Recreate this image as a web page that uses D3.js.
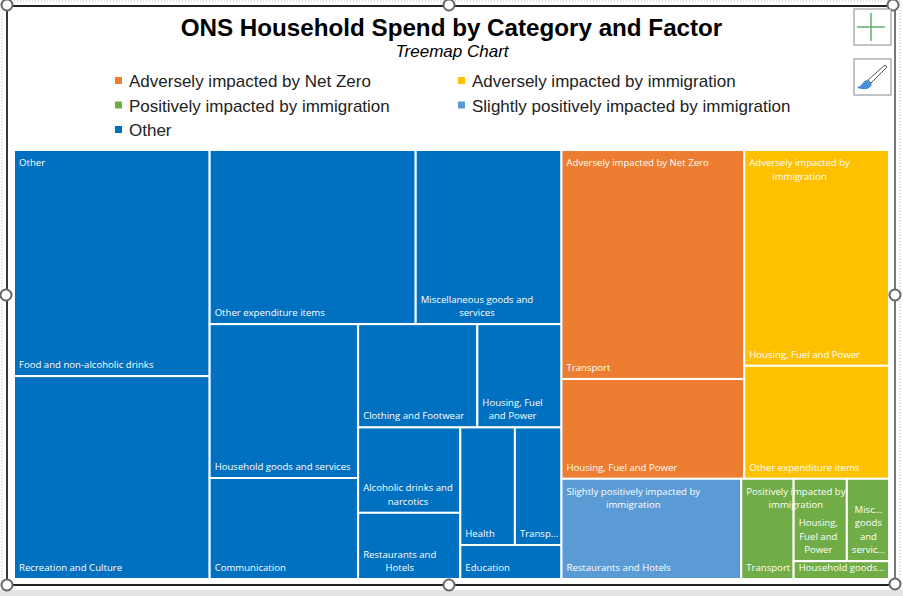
<!DOCTYPE html>
<html>
<head>
<meta charset="utf-8">
<script src="https://cdn.jsdelivr.net/npm/d3@7"></script>
<style>
  html, body { margin: 0; padding: 0; background: #fff; }
  svg { display: block; }
</style>
</head>
<body>
<svg id="chart" width="903" height="596"></svg>
<script>
/* ONS household spend treemap */
const titleText = 'ONS Household Spend by Category and Factor';
const subtitleText = 'Treemap Chart';

const groupNames = [
  'Adversely impacted by Net Zero',
  'Adversely impacted by immigration',
  'Positively impacted by immigration',
  'Slightly positively impacted by immigration',
  'Other',
];
const groupColors = ['#ED7D31', '#FFC000', '#70AD47', '#5B9BD5', '#0070C0'];

/* share of spend, % */
const otherNames = ['Food and non-alcoholic drinks', 'Recreation and Culture', 'Other expenditure items',
  'Miscellaneous goods and services', 'Household goods and services', 'Communication',
  'Clothing and Footwear', 'Housing, Fuel and Power', 'Alcoholic drinks and narcotics',
  'Restaurants and Hotels', 'Health', 'Transp...', 'Education'];
const otherValues = [11.71, 10.51, 9.50, 6.72, 6.05, 3.97, 3.26, 2.30, 2.31, 1.79, 1.70, 1.45, 0.91];
const netZeroNames = ['Transport', 'Housing, Fuel and Power'];
const netZeroValues = [11.08, 4.83];
const adverseImmNames = ['Housing, Fuel and Power', 'Other expenditure items'];
const adverseImmValues = [8.27, 4.33];
const slightNames = ['Restaurants and Hotels'];
const slightValues = [4.77];
const positiveNames = ['Transport', 'Housing, Fuel and Power', 'Misc... goods and servic...', 'Household\u00A0goods...'];
const positiveValues = [1.39, 1.16, 0.92, 0.45];

const W = 903, H = 596;
const svg = d3.select('#chart');
const leaf = (group, names, values, i) => ({ group, name: names[i], value: values[i] });

/* Nesting mirrors the Excel layout; treemapSliceDice alternates direction by depth */
const o = i => leaf(4, otherNames, otherValues, i);
const treeData = { children: [
  { children: [o(0), o(1)] },
  { children: [
    { children: [o(2), o(3)] },
    { children: [
      { children: [o(4), o(5)] },
      { children: [
        { children: [o(6), o(7)] },
        { children: [
          { children: [o(8), o(9)] },
          { children: [{ children: [o(10), o(11)] }, o(12)] },
        ] },
      ] },
    ] },
  ] },
  { children: [
    { children: [
      { children: [leaf(0, netZeroNames, netZeroValues, 0), leaf(0, netZeroNames, netZeroValues, 1)] },
      { children: [leaf(1, adverseImmNames, adverseImmValues, 0), leaf(1, adverseImmNames, adverseImmValues, 1)] },
    ] },
    { children: [
      leaf(3, slightNames, slightValues, 0),
      leaf(2, positiveNames, positiveValues, 0),
      { children: [
        { children: [leaf(2, positiveNames, positiveValues, 1), leaf(2, positiveNames, positiveValues, 2)] },
        leaf(2, positiveNames, positiveValues, 3),
      ] },
    ] },
  ] },
] };

/* ── Page strip and frame behind the chart ── */
svg.append('rect').attr('width', W).attr('height', H).attr('fill', '#fff');
svg.append('rect').attr('y', 590).attr('width', W).attr('height', 6).attr('fill', '#e4e4e4');
svg.append('path').attr('d', 'M2 1H900M2 1V590M900 1V590')
  .attr('fill', 'none').attr('stroke', '#bbb').attr('stroke-dasharray', '1 2');
svg.append('path').attr('d', 'M7 585V6H895').attr('fill', 'none').attr('stroke', '#222').attr('stroke-width', 1.8);
svg.append('path').attr('d', 'M7 585H895').attr('stroke', '#222').attr('stroke-width', 1.8);
svg.append('path').attr('d', 'M895 6V585').attr('stroke', '#777').attr('stroke-width', 2);

/* ── Titles ── */
svg.append('text').attr('x', 451.5).attr('y', 36)
  .attr('text-anchor', 'middle')
  .attr('font-family', 'Liberation Sans, Arial, sans-serif')
  .attr('font-weight', 700).attr('font-size', 24.2).attr('fill', '#000')
  .text(titleText);
svg.append('text').attr('x', 452).attr('y', 57)
  .attr('text-anchor', 'middle')
  .attr('font-family', 'Liberation Sans, Arial, sans-serif')
  .attr('font-style', 'italic').attr('font-size', 17).attr('fill', '#000')
  .text(subtitleText);

/* ── Legend ── */
const legendX = d3.scalePoint().domain([0, 1]).range([115, 458]);
const legendY = d3.scalePoint().domain([0, 1, 2]).range([81, 130]);
const lg = svg.append('g').selectAll('g').data(groupNames).join('g')
  .attr('transform', (d, i) => `translate(${legendX(i % 2)},${legendY(Math.floor(i / 2))})`);
lg.append('rect').attr('y', -4).attr('width', 7).attr('height', 7)
  .attr('fill', (d, i) => groupColors[i]);
lg.append('text').attr('x', 14).attr('y', 6)
  .attr('font-family', 'Liberation Sans, Arial, sans-serif')
  .attr('font-size', 17).attr('fill', '#222')
  .text(d => d);

/* ── Treemap ── */
const root = d3.hierarchy(treeData).sum(d => d.value || 0);
d3.treemap().tile(d3.treemapSliceDice).size([875, 429])(root);

const plot = svg.append('g').attr('transform', 'translate(14,150)');
const cells = plot.append('g');
const labels = plot.append('g')
  .attr('font-family', 'Open Sans, sans-serif')
  .attr('font-size', 9.6)
  .attr('fill', '#fff');

cells.selectAll('rect').data(root.leaves()).join('rect')
  .attr('x', d => d.x0).attr('y', d => d.y0)
  .attr('width', d => d.x1 - d.x0).attr('height', d => d.y1 - d.y0)
  .attr('fill', d => groupColors[d.data.group])
  .attr('stroke', '#fff').attr('stroke-width', 2);

const pad = 5;
const lineH = 13.5;

/* Multi-line labels are a centred block whose left edge sits at x */
function blockLabel(lines, x, firstBaseline) {
  const t = lines.map((s, i) => labels.append('text')
    .attr('y', firstBaseline + i * lineH).text(s));
  const widths = t.map(n => n.node().getComputedTextLength());
  const maxW = d3.max(widths);
  t.forEach((n, i) => n.attr('x', x + (maxW - widths[i]) / 2));
}

/* Wrap a name to the cell width the way Excel does */
function wrap(text, maxW) {
  const probe = labels.append('text');
  const lines = [];
  let cur = '';
  text.split(' ').forEach(word => {
    const next = cur ? cur + ' ' + word : word;
    probe.text(next);
    if (cur && probe.node().getComputedTextLength() > maxW) {
      lines.push(cur);
      cur = word;
    } else {
      cur = next;
    }
  });
  lines.push(cur);
  probe.remove();
  return lines;
}

root.leaves().forEach(d => {
  const lines = wrap(d.data.name, d.x1 - d.x0 - pad * 2);
  const base = d.y1 - 8 - (lines.length - 1) * lineH;
  blockLabel(lines, d.x0 + pad, base);
});

/* Group headings sit at the top-left of each group's first cell */
groupNames.forEach((name, gi) => {
  const members = root.leaves().filter(d => d.data.group === gi);
  const x0 = d3.min(members, d => d.x0);
  const y0 = d3.min(members, d => d.y0);
  const x1 = d3.max(members, d => d.x1);
  blockLabel(wrap(name, x1 - x0 - 10), x0 + 5, y0 + 16);
});

/* ── Selection frame handles ── */
const handles = [[7, 5], [449, 5], [893, 5], [6, 295], [895, 295], [7, 585], [449, 585], [895, 584]];
svg.append('g').selectAll('circle').data(handles).join('circle')
  .attr('cx', d => d[0]).attr('cy', d => d[1]).attr('r', 5.5)
  .attr('fill', '#fff').attr('stroke', '#666').attr('stroke-width', 2);

/* ── Side buttons ── */
const btn = svg.append('g');
btn.selectAll('rect').data([[854, 9], [854, 59]]).join('rect')
  .attr('x', d => d[0]).attr('y', d => d[1]).attr('width', 37).attr('height', 36)
  .attr('fill', '#fff').attr('stroke', '#888');
btn.append('path').attr('d', 'M857 27H885M871 13V41').attr('stroke', '#5cb270').attr('stroke-width', 1.5);
btn.append('path').attr('d', 'M885 65L868 80L871 83L887 67Z').attr('fill', '#fff').attr('stroke', '#555').attr('stroke-width', 1);
btn.append('path').attr('d', 'M867 80C862 81 863 86 857 87C860 90 870 91 872 84Z').attr('fill', '#4a90d9');
</script>
</body>
</html>
